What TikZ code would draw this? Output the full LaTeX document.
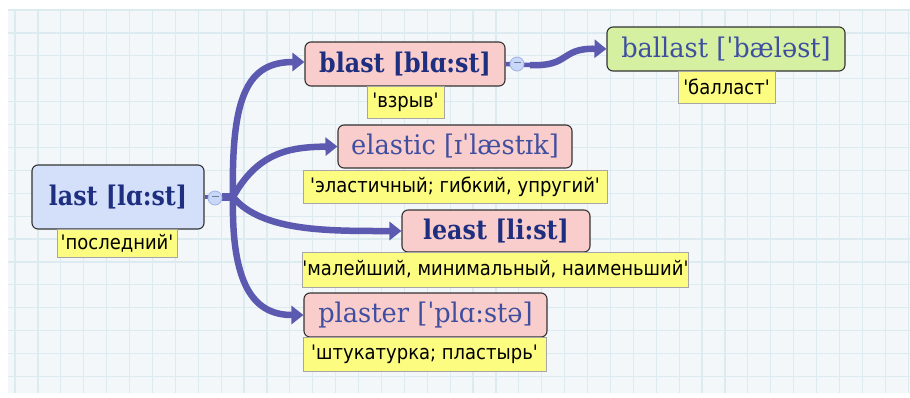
\documentclass[tikz,border=0pt]{standalone}
\usepackage{fontspec}
\usetikzlibrary{arrows.meta}
\newfontfamily\boxbold[FakeStretch=0.88]{DejaVu Serif}
\newfontfamily\boxreg[FakeStretch=0.95]{DejaVu Serif}
\newfontfamily\lblfont[FakeStretch=0.9]{DejaVu Sans}
\definecolor{bgc}{HTML}{F4F7F9}
\definecolor{gridc}{HTML}{DCEBF0}
\definecolor{arrc}{HTML}{5C59B0}
\definecolor{navy}{HTML}{1E2F80}
\definecolor{midblue}{HTML}{3F4FA0}
\definecolor{bluefill}{HTML}{D4DFFA}
\definecolor{pinkfill}{HTML}{FACDCD}
\definecolor{greenfill}{HTML}{D6F0A2}
\definecolor{yel}{HTML}{FCFC80}
\definecolor{circfill}{HTML}{C9D8F8}
\definecolor{circline}{HTML}{9FB3E2}
\tikzset{
  x=1pt, y=-1pt,
  wordbox/.style={draw=black!80, line width=1.1pt, rounded corners=6pt, inner sep=0pt},
  boldword/.style={wordbox, text=navy, font=\boxbold\fontsize{27}{30}\selectfont\bfseries},
  regword/.style={wordbox, text=midblue, font=\boxreg\fontsize{27}{30}\selectfont},
  lbl/.style={draw=black!35, line width=0.8pt, fill=yel, inner sep=0pt, text=black, font=\lblfont\fontsize{20}{22}\selectfont},
  conn/.style={draw=arrc, line width=6.5pt, -{Triangle[width=18pt,length=12pt]}},
  stub/.style={draw=arrc, line width=4.5pt},
  knob/.style={circle, draw=circline, fill=circfill, line width=0.8pt, minimum size=14pt, inner sep=0pt},
}
\begin{document}
\begin{tikzpicture}
\useasboundingbox (0,0) rectangle (910,397);
\fill[white] (0,0) rectangle (910,397);
\fill[bgc] (8,10) rectangle (910,393);
\foreach \i in {0,...,39} \draw[gridc, line width=1.2pt] (15+\i*22.9,10) -- (15+\i*22.9,393);
\foreach \j in {0,...,16} \draw[gridc, line width=1.2pt] (8,10+\j*22.9) -- (910,10+\j*22.9);

% word boxes
\node[boldword, fill=bluefill, minimum width=172pt, minimum height=64pt] (last) at (118,197) {last [lɑ:st]};
\node[boldword, fill=pinkfill, minimum width=200pt, minimum height=44pt] (blast) at (405,64) {blast [blɑ:st]};
\node[regword, fill=greenfill, minimum width=238pt, minimum height=44pt] (ballast) at (726,49) {ballast [ˈbæləst]};
\node[regword, fill=pinkfill, minimum width=234pt, minimum height=43pt] (elastic) at (455,146.5) {elastic [ɪˈlæstɪk]};
\node[boldword, fill=pinkfill, minimum width=188pt, minimum height=42pt] (least) at (496,231) {least [li:st]};
\node[regword, fill=pinkfill, minimum width=243pt, minimum height=44pt] (plaster) at (425.5,315) {plaster [ˈplɑ:stə]};

% translation labels
\node[lbl, minimum width=120pt, minimum height=28pt] (lastL) at (117,243) {'последний'};
\node[lbl, minimum width=77pt, minimum height=32pt] (blastL) at (405.5,102) {'взрыв'};
\node[lbl, minimum width=97pt, minimum height=32pt] (ballastL) at (726.5,87) {'балласт'};
\node[lbl, minimum width=304pt, minimum height=33pt] (elasticL) at (455,186.5) {'эластичный; гибкий, упругий'};
\node[lbl, minimum width=385pt, minimum height=35pt] (leastL) at (495.5,269.5) {'малейший, минимальный, наименьший'};
\node[lbl, minimum width=243pt, minimum height=34pt] (plasterL) at (424.5,354) {'штукатурка; пластырь'};

% connectors from "last"
\coordinate (root) at (233,197);
\draw[stub] (last.east) -- (root);
\draw[conn] (root) .. controls (231,95) and (248,62) .. (blast.west |- 0,62);
\draw[conn] (root) .. controls (258,152) and (290,147) .. (elastic.west);
\draw[conn] (root) .. controls (262,232) and (330,231) .. (least.west);
\draw[conn] (root) .. controls (231,292) and (258,315) .. (plaster.west);
\draw[arrc, line width=8pt] (222,197) -- (root);
\node[knob] (k1) at (215,198) {\textcolor{circline!70!black}{\rule[3pt]{7pt}{0.8pt}}};

% connector blast -> ballast
\coordinate (root2) at (530,65);
\draw[stub] (blast.east |- 0,64) -- (root2);
\draw[conn] (root2) .. controls (570,67) and (560,48) .. (ballast.west);
\node[knob] (k2) at (517,64) {\textcolor{circline!70!black}{\rule[3pt]{7pt}{0.8pt}}};
\end{tikzpicture}
\end{document}
